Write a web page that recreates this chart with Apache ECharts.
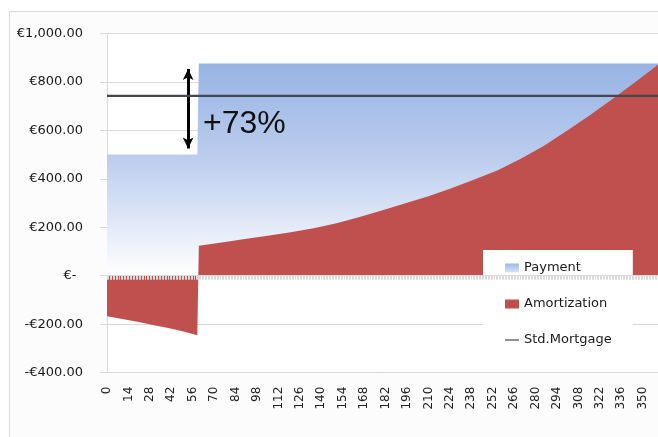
<!DOCTYPE html>
<html>
<head>
<meta charset="utf-8">
<script src="https://cdn.jsdelivr.net/npm/echarts@6/dist/echarts.min.js"></script>
<style>
html,body{margin:0;padding:0;background:#fff;}
#chart{width:658px;height:437px;}
</style>
</head>
<body>
<div id="chart"></div>
<script>
// ---- data ----
const paymentMonths = [0, 59, 60, 360];
const paymentValues = [500, 500, 875, 875];

const amortMonths = [0, 10, 20, 30, 40, 50, 59,
  60, 75, 90, 105, 120, 135, 150, 165, 180, 195, 210, 225, 240, 255, 270, 285, 300, 315, 330, 345, 360];
const amortValues = [-167, -178, -190, -203, -216, -230, -246,
  124, 137, 151, 165, 179, 196, 216, 242, 270, 299, 328, 361, 397, 434, 482, 534, 596, 660, 728, 798, 870];

const stdMortgageMonths = [0, 360];
const stdMortgageValues = [742, 742];

const yTickValues = [-400, -200, 0, 200, 400, 600, 800, 1000];
const yTickLabels = ['-€400.00', '-€200.00', '€-', '€200.00', '€400.00', '€600.00', '€800.00', '€1,000.00'];

const seriesNames = ['Payment', 'Amortization', 'Std.Mortgage'];
const annotationText = '+73%';
const arrowMonth = 53, arrowFrom = 525, arrowTo = 853;

const pairs = (xs, ys) => xs.map((x, i) => [x, ys[i]]);

const chart = echarts.init(document.getElementById('chart'), null, {renderer: 'canvas'});

const blueGrad = new echarts.graphic.LinearGradient(0, 0, 0, 1, [
  {offset: 0, color: '#97b4e3'},
  {offset: 0.45, color: '#bccdee'},
  {offset: 1, color: '#ffffff'}
]);
const legendGrad = new echarts.graphic.LinearGradient(0, 0, 0, 1, [
  {offset: 0, color: '#9db8e6'},
  {offset: 1, color: '#dbe4f6'}
]);

const font = 'DejaVu Sans';

chart.setOption({
  animation: false,
  backgroundColor: '#ffffff',
  graphic: [
    {type: 'rect', z: -10, shape: {x: 9.5, y: 11.5, width: 700, height: 500},
     style: {fill: '#fcfcfc', stroke: '#d9d9d9', lineWidth: 1}},
    {type: 'rect', z: -9, shape: {x: 107, y: 33, width: 600, height: 340},
     style: {fill: '#ffffff'}},
    {type: 'text', z: 20, left: 203, top: 108,
     style: {text: annotationText, font: '32px "Liberation Sans"', fill: '#111111'}}
  ],
  grid: {left: 107, top: 33.3, right: -7.4, bottom: 64.3, containLabel: false},
  legend: {
    orient: 'vertical',
    left: 483, top: 250,
    padding: [10, 21, 8, 22],
    backgroundColor: '#ffffff',
    itemWidth: 14, itemHeight: 9, itemGap: 20,
    textStyle: {fontFamily: font, fontSize: 13, color: '#1a1a1a', lineHeight: 16},
    data: [
      {name: seriesNames[0], icon: 'rect', itemStyle: {color: legendGrad}},
      {name: seriesNames[1], icon: 'rect', itemStyle: {color: '#c0504d'}},
      {name: seriesNames[2], icon: 'path://M0,0 L14,0 L14,1 L0,1 Z', itemStyle: {color: '#222222'}}
    ]
  },
  xAxis: {
    type: 'value', min: 0, max: 360, interval: 14, z: 10,
    axisLine: {onZero: true, lineStyle: {color: '#d9d9d9', width: 1}},
    axisTick: {show: true, length: 4, lineStyle: {color: '#dadada'}},
    minorTick: {show: true, splitNumber: 14, length: 4, lineStyle: {color: '#dadada'}},
    splitLine: {show: false},
    axisLabel: {rotate: 90, margin: 14, fontFamily: font, fontSize: 12, color: '#222',
      showMaxLabel: false, formatter: v => String(v)}
  },
  yAxis: {
    type: 'value', min: -400, max: 1000, interval: 200,
    axisLine: {show: true, lineStyle: {color: '#d9d9d9'}},
    axisTick: {show: true, length: 7, lineStyle: {color: '#d9d9d9'}},
    splitLine: {show: true, lineStyle: {color: '#d9d9d9', width: 1}},
    axisLabel: {margin: 24, fontFamily: font, fontSize: 13, color: '#1a1a1a',
      formatter: v => {
        const i = yTickValues.indexOf(v);
        const s = i >= 0 ? yTickLabels[i] : '';
        return v === 0 ? s + '\u2002' : s;
      }}
  },
  series: [
    {
      name: seriesNames[0], type: 'line', data: pairs(paymentMonths, paymentValues),
      symbol: 'none', lineStyle: {width: 0}, areaStyle: {color: blueGrad, opacity: 1},
      itemStyle: {color: '#95b3e3'},
      markLine: {
        silent: true, symbol: ['arrow', 'arrow'], symbolSize: [8, 11],
        label: {show: false},
        lineStyle: {color: '#000000', width: 3, type: 'solid'},
        data: [[{coord: [arrowMonth, arrowFrom]}, {coord: [arrowMonth, arrowTo]}]]
      }
    },
    {
      name: seriesNames[1], type: 'line', data: pairs(amortMonths, amortValues),
      symbol: 'none', lineStyle: {width: 0}, areaStyle: {color: '#c0504d', opacity: 1},
      itemStyle: {color: '#c0504d'}
    },
    {
      name: seriesNames[2], type: 'line', data: pairs(stdMortgageMonths, stdMortgageValues),
      symbol: 'none', lineStyle: {width: 2.2, color: '#45474f'},
      itemStyle: {color: '#222222'}, z: 5
    }
  ]
});
</script>
</body>
</html>
